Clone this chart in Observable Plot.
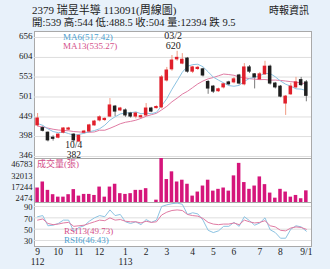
<!DOCTYPE html>
<html><head><meta charset="utf-8">
<script src="https://cdn.jsdelivr.net/npm/d3@7"></script>
<script src="https://cdn.jsdelivr.net/npm/@observablehq/plot@0.6"></script>
<style>
body{margin:0;background:#e8f1fa;}
#c{position:relative;width:330px;height:269px;background:#e8f1fa;overflow:hidden;font-family:"Liberation Serif","Noto Sans CJK TC",serif;color:#222;}
#c svg{position:absolute;left:0;overflow:visible;}
.t{position:absolute;white-space:nowrap;line-height:1;}
</style></head><body><div id="c"></div>
<script>
// ---- data (weekly, 2023/09 – 2024/09) ----
const opens  = [427,420,408,395,395,408,416,403,385,408,411,427,440,441,450,476,466,466,458,450,448,453,471,472,474,544,573,599,588,601,567,574,573,540,528,516,526,539,539,557,534,578,560,547,560,580,536,528,484,508,526,545,539];
const highs  = [458,425,410,400,405,421,422,405,402,414,430,440,452,447,497,479,474,470,461,461,454,484,474,478,557,578,609,620,614,604,581,581,576,544,531,524,537,542,552,560,588,583,562,565,594,584,539,531,505,537,552,552,544];
const lows   = [424,410,384,386,392,405,413,382,383,404,409,425,436,437,448,450,463,448,446,444,445,450,460,470,470,540,568,594,585,563,562,570,553,508,510,513,522,530,535,532,530,562,522,544,557,532,522,499,453,505,522,528,488.5];
const closes = [445,413,388,392,403,419,419,388,400,411,427,437,448,444,479,463,471,453,450,458,451,471,463,475,552,570,596,603,598,567,578,577,557,523,515,521,534,534,547,536,578,567,552,560,580,536,526,502,502,528,539,532,504];
const volumes= [15400,21800,12900,8300,5700,5700,8300,13700,6800,8600,8600,7500,16400,5700,16400,19400,9400,8600,9400,12900,12900,14700,0,2474,46783,24400,32600,21800,23700,19400,6800,11100,17500,23700,12100,14000,15400,12100,28300,41600,21200,14000,17500,27200,19000,10000,4600,14000,11100,5700,7500,4000,12394];
const ma6  = [432,427,418,411,408,410,405.7,401.5,403.5,406.5,410.5,413.5,418.3,427.5,440.7,449.5,456.8,459.5,459.8,462.3,457.5,458.8,457.5,461,478,496.7,521,543,565.5,581,585.3,586.3,579.8,566.5,552.7,545,537.7,530.7,529,531.2,541.7,549.3,552.3,556.7,562.2,562.2,553.5,542.7,534.3,529,522.2,521.5,517.42];
const ma13 = [425,423,420,417,415,414,413,411,410,409,409,410,414.5,414.4,419.5,425.2,431.3,435.2,437.5,440.5,445.3,450.8,454.8,458.5,467.3,476.7,488.5,498,508.4,515.8,525.4,535.1,542.7,548.3,551.7,556.2,560.8,559.4,557.6,553,551.1,548.7,547.5,546.2,546.5,544.8,545.1,544.1,542.6,541,539.5,537.5,535.27];
const rsi13= [66,68,60,58,59,61,62,55,56,57,60,63,66,65,70,66,67,64,63,63,61,64,62,63,75,80,83,84,83,76,74,73,69,62,59,58,59,59,61,58,66,63,61,62,65,56,54,48,47,52,54,53,49.73];
const rsi6 = [72,74,56,57,60,66,66,46,53,56,64,70,74,72,84,74,76,63,60,63,58,67,62,66,90,93,95,96,94,76,79,77,66,48,44,47,55,55,62,55,72,65,57,61,70,49,44,34,34,50,56,54,46.43];
const priceTicks = [346,398,449,501,553,604,656];
const volTicks   = [2474,17244,32013,46783];
const rsiTicks   = [30,50,70,90];
const monthTicks = [0,4,8,12,17,21,25,30,34,38,43,47,52];
const monthLabels= ["9\n112","10","11","12","1\n113","2","3","4","5","6","7","8","9/1"];
const lowLabel = "10/4", highLabel = "03/2";
const title1 = "2379  瑞昱半導 113091(周線圖)";
const title2 = "開:539 高:544 低:488.5 收:504 量:12394 跌 9.5";
const source = "時報資訊";

// ---- styles ----
const RED="#e01f2b", BLACK="#1e1e1e", RWICK="#f09a82", BWICK="#7a7a7a";
const VOL="#d5157b", BLUE="#8cc3e2", PINK="#e07ba3";
const BORDER="#a9a9a9", GRID="#dedede";
const N = closes.length;
const idx = d3.range(N);
const candles = idx.map(i=>({i,o:opens[i],h:highs[i],l:lows[i],c:closes[i],up:closes[i]>=opens[i]}));
const X = {domain:[-0.6,53], axis:null};
const fmt = d=>String(d);
const common = {width:330, marginLeft:34, marginRight:19, marginTop:0, color:{type:"identity"},
  style:{fontFamily:"Liberation Serif, serif", fontSize:"9px", background:"transparent", color:"#222", overflow:"visible"}};
const c = document.getElementById("c");
function place(svg, top){ svg.style.top = top+"px"; c.appendChild(svg); }

const hiI = highs.indexOf(d3.max(highs));
const loI = lows.indexOf(d3.min(lows));

// price panel
place(Plot.plot({...common, height:127, marginBottom:0, x:X,
  y:{domain:[340.8,671.6], axis:null},
  marks:[
    Plot.frame({fill:"white", stroke:BORDER}),
    Plot.gridY(priceTicks,{stroke:GRID, strokeOpacity:1}),
    Plot.axisY(priceTicks,{tickSize:0, tickPadding:2, fontSize:9, tickFormat:fmt, dy:-1}),
    Plot.ruleX(candles,{x:"i", y1:"l", y2:"h", stroke:d=>d.up?RWICK:BWICK, strokeWidth:1}),
    Plot.lineY(ma13,{x:(d,i)=>i, y:d=>d, stroke:PINK, strokeWidth:1}),
    Plot.lineY(ma6,{x:(d,i)=>i, y:d=>d, stroke:BLUE, strokeWidth:1}),
    Plot.rect(candles,{x1:d=>d.i-0.34, x2:d=>d.i+0.34, y1:d=>Math.min(d.o,d.c), y2:d=>Math.max(d.o,d.c),
      fill:d=>d.up?RED:BLACK, insetTop:-0.5, insetBottom:-0.5}),
    Plot.text([loI],{x:d=>d, y:d=>lows[d], text:d=>lowLabel+"\n"+lows[d], lineAnchor:"top", dy:-1, fontSize:9.5, lineHeight:1, fill:"#222"}),
    Plot.text([hiI],{x:d=>d, y:d=>highs[d], text:d=>highLabel+"\n"+highs[d], lineAnchor:"bottom", dy:-2, dx:-4, fontSize:10, lineHeight:1, fill:"#222"})
  ]}), 31);

// volume panel
place(Plot.plot({...common, height:44, marginBottom:0, x:X,
  y:{domain:[0,46783], axis:null},
  marks:[
    Plot.frame({fill:"white", stroke:BORDER}),
    Plot.rect(idx,{x1:i=>i-0.34, x2:i=>i+0.34, y1:0, y2:i=>volumes[i], fill:VOL})
  ]}), 158);
// volume axis labels (label spacing as in the reference)
place(Plot.plot({...common, height:44, marginBottom:0, x:X,
  y:{domain:[-2741,54606], axis:null},
  marks:[ Plot.axisY(volTicks,{tickSize:0, tickPadding:2, fontSize:8.5, tickFormat:fmt}) ]}), 158);

// RSI panel
place(Plot.plot({...common, height:67, marginBottom:23, x:X,
  y:{domain:[19.4,97.1], axis:null},
  marks:[
    Plot.frame({fill:"white", stroke:BORDER}),
    Plot.gridY(rsiTicks,{stroke:GRID, strokeOpacity:1}),
    Plot.axisY(rsiTicks,{tickSize:0, tickPadding:2, fontSize:8.5, tickFormat:fmt, dy:1}),
    Plot.lineY(rsi6,{x:(d,i)=>i, y:d=>d, stroke:BLUE, strokeWidth:1}),
    Plot.lineY(rsi13,{x:(d,i)=>i, y:d=>d, stroke:PINK, strokeWidth:1}),
    Plot.axisX(monthTicks,{tickSize:0, tickPadding:1, fontSize:9.5, tickFormat:i=>monthLabels[monthTicks.indexOf(i)], lineHeight:1.05})
  ]}), 202);

// texts
function txt(s, left, top, size, color){
  const d=document.createElement("div"); d.className="t"; d.textContent=s;
  d.style.left=left+"px"; d.style.top=top+"px"; d.style.fontSize=size+"px"; d.style.color=color; c.appendChild(d);
}
txt(title1, 32, 5, 11, "#222");
txt(title2, 32, 18, 10.5, "#222");
txt(source, 269, 6, 10, "#222");
txt("MA6("+ma6[N-1].toFixed(2)+")", 63, 32.5, 9, "#4c9fd0");
txt("MA13("+ma13[N-1].toFixed(2)+")", 63, 41.5, 9, "#d4508a");
txt("成交量(張)", 37, 160, 9, "#d4508a");
txt("RSI13("+rsi13[N-1].toFixed(2)+")", 64, 227, 9, "#d4508a");
txt("RSI6("+rsi6[N-1].toFixed(2)+")", 64, 235.5, 9, "#4c9fd0");
</script></body></html>
